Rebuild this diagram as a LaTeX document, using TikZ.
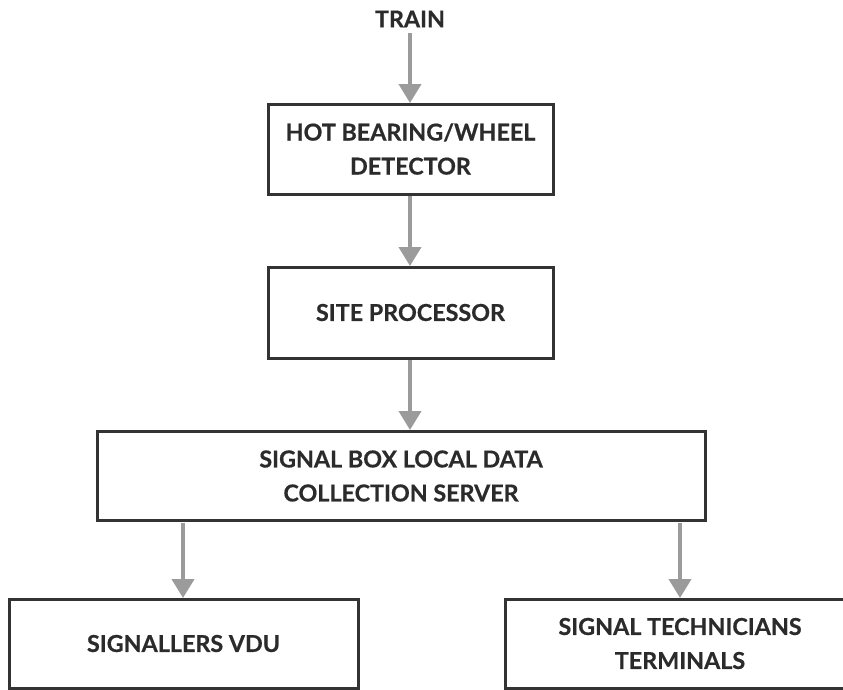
\documentclass[tikz,border=0pt]{standalone}
\usepackage{fontspec}
\setmainfont{Lato}[BoldFeatures={FakeBold=0.6}]
\usetikzlibrary{arrows.meta}
\definecolor{boxline}{HTML}{333333}
\definecolor{arrowgray}{HTML}{9B9B9B}
\definecolor{txt}{HTML}{2B2B2B}
\tikzset{
  boxshape/.style={draw=boxline, line width=3pt, fill=white},
  lbl/.style={text=txt, font=\fontsize{23.3}{34}\selectfont\bfseries, align=center},
  flow/.style={draw=arrowgray, line width=4pt, -{Triangle[length=19pt,width=22pt]}, shorten >=0pt}
}
\begin{document}
\begin{tikzpicture}[x=1pt,y=-1pt]
\useasboundingbox (0,0) rectangle (843,689);
\clip (0,0) rectangle (843,689);
\node[lbl] (train) at (410,19) {TRAIN};
\draw[boxshape] (268,104) rectangle (553,194);
\node[lbl] (hb) at (410.5,149) {HOT BEARING/WHEEL\\DETECTOR};
\coordinate (hbt) at (410,103);
\coordinate (hbb) at (410,196);
\draw[boxshape] (268,267) rectangle (553,358);
\node[lbl] (sp) at (410.5,312.5) {SITE PROCESSOR};
\coordinate (spt) at (410,266);
\coordinate (spb) at (410,360);
\draw[boxshape] (97,431) rectangle (705,520);
\node[lbl] (sb) at (401,476) {SIGNAL BOX LOCAL DATA\\COLLECTION SERVER};
\coordinate (sbt) at (410,430);
\coordinate (sbl) at (183,523);
\coordinate (sbr) at (680,523);
\draw[boxshape] (9,599) rectangle (358,688);
\node[lbl] (vdu) at (183.5,643.5) {SIGNALLERS VDU};
\coordinate (vdut) at (183,598);
\draw[boxshape] (505,599) rectangle (850,688);
\node[lbl] (tt) at (680,643.5) {SIGNAL TECHNICIANS\\TERMINALS};
\coordinate (ttt) at (680,598);
\draw[flow] (410,33) -- (hbt);
\draw[flow] (hbb) -- (spt);
\draw[flow] (spb) -- (sbt);
\draw[flow] (sbl) -- (vdut);
\draw[flow] (sbr) -- (ttt);
\end{tikzpicture}
\end{document}
